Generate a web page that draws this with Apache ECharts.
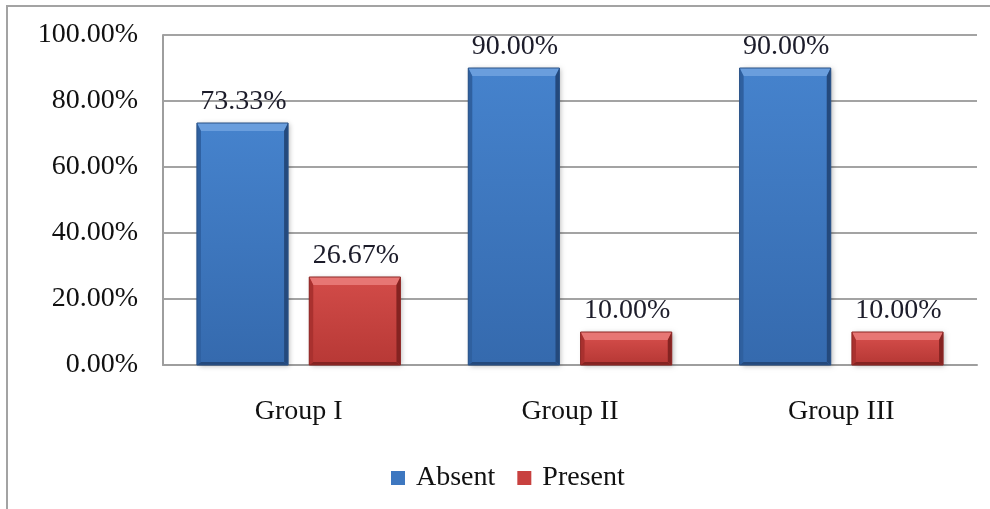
<!DOCTYPE html>
<html>
<head>
<meta charset="utf-8">
<script src="https://cdn.jsdelivr.net/npm/echarts@6/dist/echarts.min.js"></script>
<style>
  html, body { margin: 0; padding: 0; background: #fff; }
  #chart { width: 990px; height: 509px; }
</style>
</head>
<body>
<div id="chart"></div>
<script>
// Share of cases, by group
const categories = ['Group I', 'Group II', 'Group III'];
const absentValues = [73.33, 90.00, 90.00];
const presentValues = [26.67, 10.00, 10.00];
const yTicks = [0, 20, 40, 60, 80, 100];

const FONT = '"Liberation Serif", "Times New Roman", serif';

// Beveled bar palettes
const palettes = {
  Absent: {
    base: '#3d77c0', top: '#6a9edd', bodyTop: '#4582cc', bodyBottom: '#356aae',
    left: '#2f609f', right: '#24497c', bottom: '#24497c', stroke: '#2a5287'
  },
  Present: {
    base: '#c8413f', top: '#e77674', bodyTop: '#d04a47', bodyBottom: '#b83936',
    left: '#a9312f', right: '#842321', bottom: '#842321', stroke: '#8e2927'
  }
};

function makeRenderer(name, side) {
  const p = palettes[name];
  return function (params, api) {
    const idx = api.value(0);
    const val = api.value(1);
    const band = api.size([1, 0])[0];
    const barW = band * 0.336;
    const gap = band * 0.078;
    const center = api.coord([idx, 0])[0] + side * (barW + gap) / 2;
    const top = api.coord([idx, val])[1];
    const base = api.coord([idx, 0])[1];
    const x = center - barW / 2;
    const w = barW;
    const h = base - top;
    const t = Math.min(8, h / 3);   // top bevel depth
    const s = 4;                    // side bevel width
    const b = 3;                    // bottom bevel depth
    const y = top;
    return {
      type: 'group',
      children: [
        {
          type: 'rect',
          shape: { x: x, y: y, width: w, height: h },
          style: {
            fill: p.base,
            shadowBlur: 5, shadowColor: 'rgba(0,0,0,0.28)',
            shadowOffsetX: 2, shadowOffsetY: 1
          }
        },
        {
          type: 'rect',
          shape: { x: x + s, y: y + t, width: w - 2 * s, height: h - t - b },
          style: {
            fill: new echarts.graphic.LinearGradient(0, 0, 0, 1, [
              { offset: 0, color: p.bodyTop },
              { offset: 1, color: p.bodyBottom }
            ])
          }
        },
        {
          type: 'polygon',
          shape: { points: [[x, y], [x + w, y], [x + w - s, y + t], [x + s, y + t]] },
          style: { fill: p.top }
        },
        {
          type: 'polygon',
          shape: { points: [[x, y], [x + s, y + t], [x + s, y + h - b], [x, y + h]] },
          style: { fill: p.left }
        },
        {
          type: 'polygon',
          shape: { points: [[x + w, y], [x + w, y + h], [x + w - s, y + h - b], [x + w - s, y + t]] },
          style: { fill: p.right }
        },
        {
          type: 'polygon',
          shape: { points: [[x, y + h], [x + s, y + h - b], [x + w - s, y + h - b], [x + w, y + h]] },
          style: { fill: p.bottom }
        },
        {
          type: 'rect',
          shape: { x: x, y: y, width: w, height: h },
          style: { fill: 'none', stroke: p.stroke, lineWidth: 1 }
        },
        {
          type: 'text',
          style: {
            text: val.toFixed(2) + '%',
            x: center + 1,
            y: top - 7,
            align: 'center',
            verticalAlign: 'bottom',
            font: '28px ' + FONT,
            fill: '#1c1c2a'
          }
        }
      ]
    };
  };
}

function seriesData(values) {
  return values.map((v, i) => [i, v]);
}

const chart = echarts.init(document.getElementById('chart'), null, { renderer: 'canvas' });

chart.setOption({
  backgroundColor: '#ffffff',
  animation: false,
  textStyle: { fontFamily: FONT },
  graphic: [
    {
      type: 'rect',
      silent: true,
      shape: { x: 7, y: 6, width: 1100, height: 1100 },
      style: { fill: 'none', stroke: '#a3a3a3', lineWidth: 2 }
    }
  ],
  grid: { left: 163, right: 13, top: 35, bottom: 144, containLabel: false },
  legend: {
    left: 386,
    top: 459,
    icon: 'rect',
    itemWidth: 14,
    itemHeight: 14,
    itemGap: 22,
    textStyle: { fontFamily: FONT, fontSize: 28, color: '#111', padding: [0, 0, 0, 6] },
    data: ['Absent', 'Present']
  },
  xAxis: {
    type: 'category',
    data: categories,
    axisLine: { show: true, lineStyle: { color: '#9e9e9e', width: 2 } },
    axisTick: { show: false },
    axisLabel: { fontFamily: FONT, fontSize: 28, color: '#111', margin: 33 },
    splitLine: { show: false }
  },
  yAxis: {
    type: 'value',
    min: yTicks[0],
    max: yTicks[yTicks.length - 1],
    interval: 20,
    axisLine: { show: true, lineStyle: { color: '#9e9e9e', width: 2 } },
    axisTick: { show: false },
    axisLabel: {
      fontFamily: FONT, fontSize: 28, color: '#111', margin: 25,
      formatter: v => v.toFixed(2) + '%'
    },
    splitLine: { show: true, lineStyle: { color: '#a3a3a3', width: 2 } }
  },
  series: [
    {
      name: 'Absent',
      type: 'custom',
      renderItem: makeRenderer('Absent', -1),
      itemStyle: { color: palettes.Absent.base },
      encode: { x: 0, y: 1 },
      data: seriesData(absentValues)
    },
    {
      name: 'Present',
      type: 'custom',
      renderItem: makeRenderer('Present', 1),
      itemStyle: { color: palettes.Present.base },
      encode: { x: 0, y: 1 },
      data: seriesData(presentValues)
    }
  ]
});
</script>
</body>
</html>
